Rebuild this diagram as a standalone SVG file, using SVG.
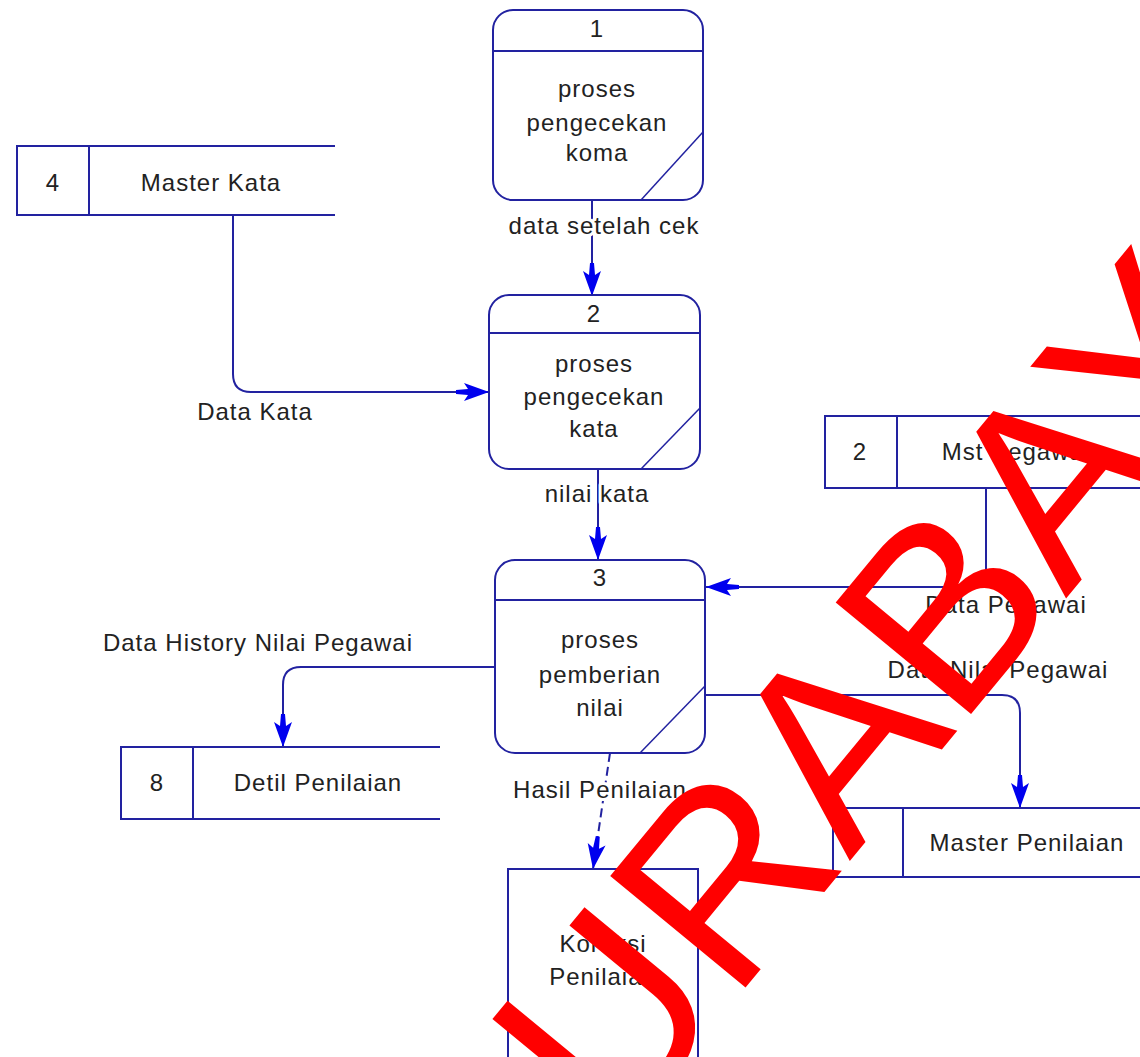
<svg xmlns="http://www.w3.org/2000/svg" width="1140" height="1057" viewBox="0 0 1140 1057">
<style>
.ln{fill:none;stroke:#2222a0;stroke-width:2}
.box{fill:#fff;stroke:#2222a0;stroke-width:2}
.diag{fill:none;stroke:#2222a0;stroke-width:1.5}
.t{font-family:"Liberation Sans",Arial,sans-serif;font-size:24px;letter-spacing:1px;fill:#222;text-anchor:middle}
.lbl{font-family:"Liberation Sans",Arial,sans-serif;font-size:24px;letter-spacing:1px;fill:#222;text-anchor:middle;stroke:#fff;stroke-width:6;paint-order:stroke;stroke-linejoin:round}
.wm{font-family:"Liberation Sans",Arial,sans-serif;font-size:255px;fill:#ff0000}
</style>
<defs>
<marker id="arr" markerUnits="userSpaceOnUse" markerWidth="40" markerHeight="24" viewBox="-34 -12 40 24" refX="0" refY="0" orient="auto">
<path d="M0,0 L-25,-9 L-21,-3 L-33,-2 L-33,2 L-21,3 L-25,9 Z" fill="#0000ee"/>
</marker>
</defs>
<rect width="1140" height="1057" fill="#fff"/>

<g id="connectors">
<path class="ln" d="M592,200 V296" marker-end="url(#arr)"/>
<path class="ln" d="M233,216 V374 Q233,392 251,392 H489" marker-end="url(#arr)"/>
<path class="ln" d="M598,470 V560" marker-end="url(#arr)"/>
<path class="ln" d="M986,489 V587 H706" marker-end="url(#arr)"/>
<path class="ln" d="M706,695 H1002 Q1020,695 1020,713 V808" marker-end="url(#arr)"/>
<path class="ln" d="M495,667 H301 Q283,667 283,685 V747" marker-end="url(#arr)"/>
<path class="ln" d="M610,753 L593,869" stroke-dasharray="9,5" marker-end="url(#arr)"/>
<text class="lbl" x="604" y="234">data setelah cek</text>
<text class="lbl" x="255" y="420">Data Kata</text>
<text class="lbl" x="597" y="502">nilai kata</text>
<text class="lbl" x="1006" y="613">Data Pegawai</text>
<text class="lbl" x="998" y="678">Data Nilai Pegawai</text>
<text class="lbl" x="258" y="651">Data History Nilai Pegawai</text>
<text class="lbl" x="600" y="798">Hasil Penilaian</text>
</g>

<g id="p1">
<rect class="box" x="493" y="10" width="210" height="190" rx="20"/>
<line class="ln" x1="493" y1="51" x2="703" y2="51"/>
<line class="diag" x1="703" y1="132" x2="641" y2="200"/>
<text class="t" x="597" y="37">1</text>
<text class="t" x="597" y="97">proses</text>
<text class="t" x="597" y="131">pengecekan</text>
<text class="t" x="597" y="161">koma</text>
</g>

<g id="p2">
<rect class="box" x="489" y="295" width="211" height="174" rx="20"/>
<line class="ln" x1="489" y1="333" x2="700" y2="333"/>
<line class="diag" x1="700" y1="408" x2="641" y2="469"/>
<text class="t" x="594" y="322">2</text>
<text class="t" x="594" y="372">proses</text>
<text class="t" x="594" y="405">pengecekan</text>
<text class="t" x="594" y="437">kata</text>
</g>

<g id="p3">
<rect class="box" x="495" y="560" width="210" height="193" rx="20"/>
<line class="ln" x1="495" y1="600" x2="705" y2="600"/>
<line class="diag" x1="705" y1="686" x2="640" y2="753"/>
<text class="t" x="600" y="586">3</text>
<text class="t" x="600" y="648">proses</text>
<text class="t" x="600" y="683">pemberian</text>
<text class="t" x="600" y="716">nilai</text>
</g>

<g id="ds4">
<path class="ln" d="M335,146 H17 V215 H335 M89,146 V215"/>
<text class="t" x="53" y="191">4</text>
<text class="t" x="211" y="191">Master Kata</text>
</g>

<g id="ds2">
<path class="ln" d="M1140,416 H825 V488 H1140 M897,416 V488"/>
<text class="t" x="860" y="460">2</text>
<text class="t" x="1016" y="460">Mst Pegawai</text>
</g>

<g id="ds8">
<path class="ln" d="M440,747 H121 V819 H440 M193,747 V819"/>
<text class="t" x="157" y="791">8</text>
<text class="t" x="318" y="791">Detil Penilaian</text>
</g>

<g id="dsMP">
<path class="ln" d="M1140,808 H833 V877 H1140 M903,808 V877"/>
<text class="t" x="1027" y="851">Master Penilaian</text>
</g>

<g id="ext">
<rect class="box" x="508" y="869" width="190" height="200"/>
<text class="t" x="603" y="952">Koreksi</text>
<text class="t" x="603" y="985">Penilaian</text>
</g>

<text class="wm" transform="translate(507,1277) rotate(-50.5)">SURABAYA</text>
</svg>
